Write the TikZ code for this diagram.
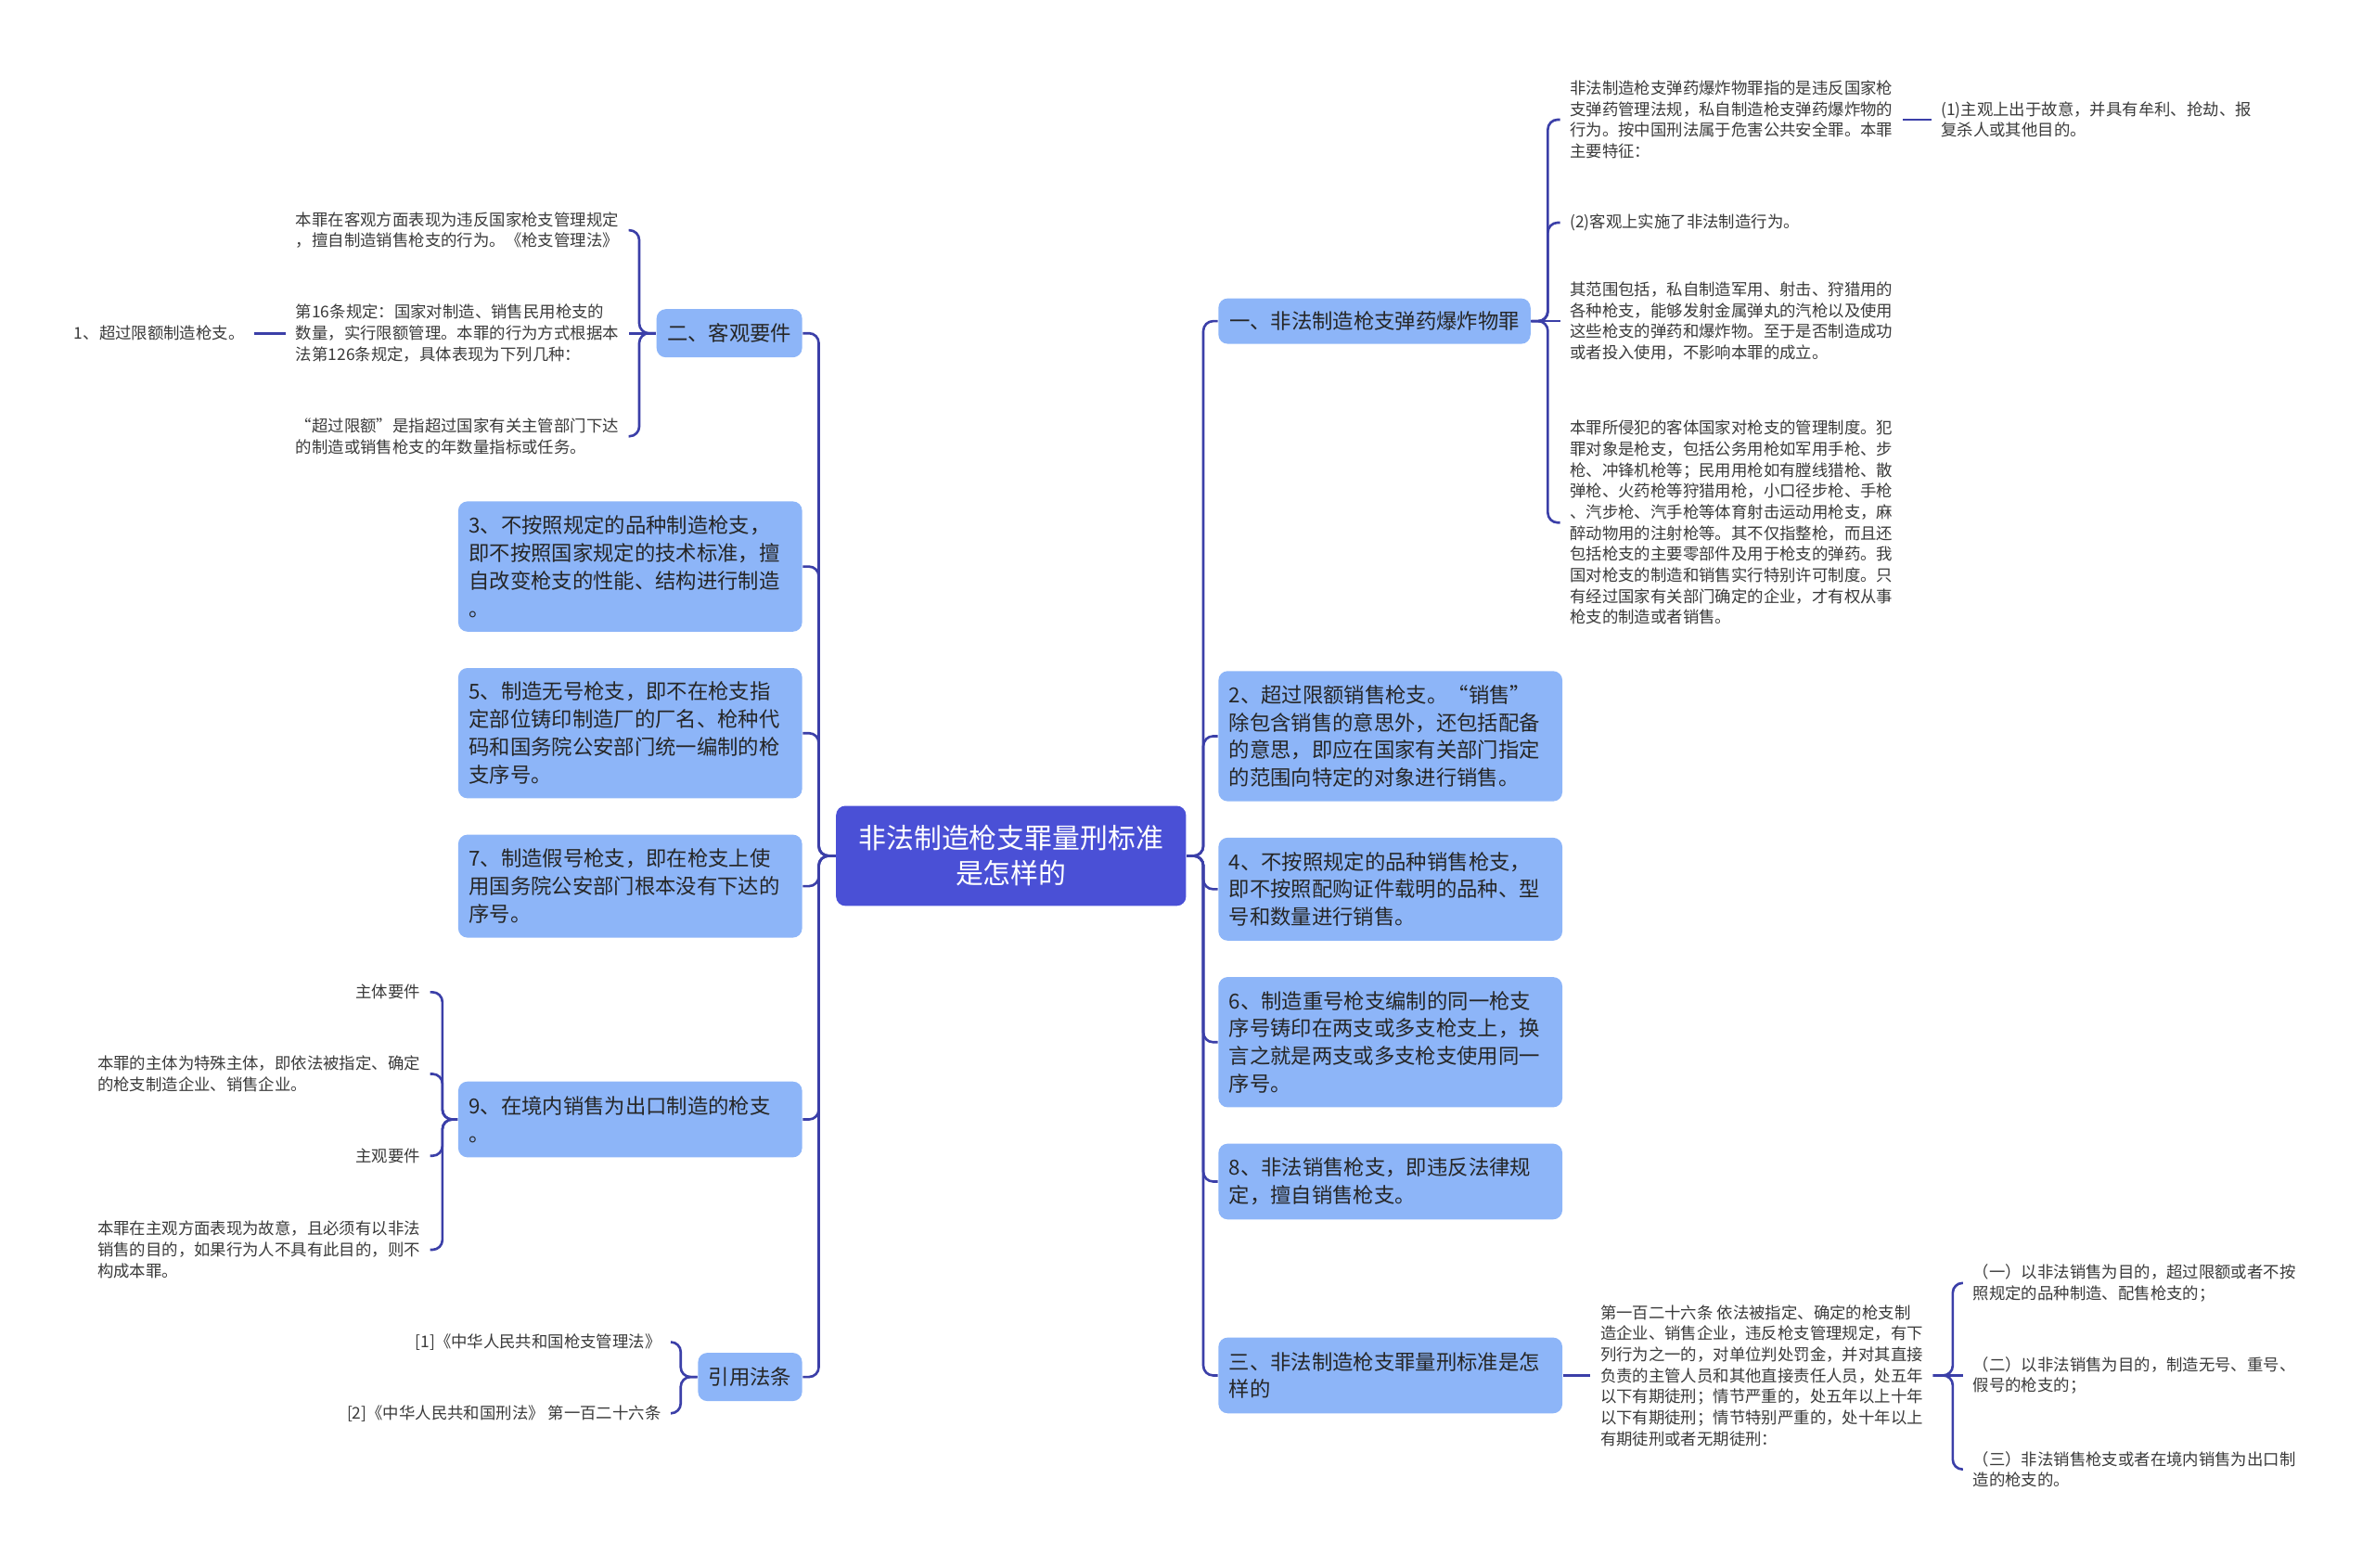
\documentclass[tikz,border=0pt]{standalone}
\usepackage{fontspec}
\setmainfont{Noto Sans CJK SC}
\usepackage{tikz}

\definecolor{rootblue}{HTML}{4A50D6}
\definecolor{boxblue}{HTML}{8DB5F8}
\definecolor{linkblue}{HTML}{3B3FA8}
\definecolor{leafgray}{HTML}{3A3A3A}

\newcommand{\rootfont}{\fontsize{8.5}{10.8}\selectfont}
\newcommand{\boxfont}{\fontsize{6.36}{8.5}\selectfont}
\newcommand{\leaffont}{\fontsize{4.95}{6.45}\selectfont}

\begin{document}
\begin{tikzpicture}[x=0.01633cm, y=-0.01633cm,
    rootbox/.style={fill=rootblue, rounded corners=0.1cm, text=white, font=\rootfont,
        align=center, minimum width=3.772cm, minimum height=1.078cm, inner sep=0pt},
    lvl/.style={fill=boxblue, rounded corners=0.1cm, text=black!85, font=\boxfont,
        align=left, inner xsep=0.114cm, inner ysep=0pt},
    wide/.style={lvl, text width=3.479cm},
    leaf/.style={text=leafgray, font=\leaffont, align=left, inner xsep=0.1cm, inner ysep=0.05cm},
    link/.style={draw=linkblue, line width=0.75pt, rounded corners=3pt}]
    \useasboundingbox (0,0) rectangle (1568,1035);

    % Centre
    \node[rootbox] (root) at (667.5,565) {非法制造枪支罪量刑标准\\是怎样的};

    % Left Panel: first level
    \node[lvl, anchor=east, minimum width=1.535cm, minimum height=0.52cm, align=center] (kg) at (530,220) {二、客观要件};
    \node[wide, anchor=east, minimum height=1.404cm] (m3) at (530,374) {3、不按照规定的品种制造枪支，\\即不按照国家规定的技术标准，擅\\自改变枪支的性能、结构进行制造\\。};
    \node[wide, anchor=east, minimum height=1.404cm] (m5) at (530,484) {5、制造无号枪支，即不在枪支指\\定部位铸印制造厂的厂名、枪种代\\码和国务院公安部门统一编制的枪\\支序号。};
    \node[wide, anchor=east, minimum height=1.11cm] (m7) at (530,585) {7、制造假号枪支，即在枪支上使\\用国务院公安部门根本没有下达的\\序号。};
    \node[wide, anchor=east, minimum height=0.817cm] (m9) at (530,739) {9、在境内销售为出口制造的枪支\\。};
    \node[lvl, anchor=east, minimum width=1.094cm, minimum height=0.52cm, align=center] (yy) at (530,909) {引用法条};

    % Left Panel: leaves
    \node[leaf, anchor=east] (a1) at (415,152) {本罪在客观方面表现为违反国家枪支管理规定\\，擅自制造销售枪支的行为。《枪支管理法》};
    \node[leaf, anchor=east] (a2) at (415,220) {第16条规定：国家对制造、销售民用枪支的\\数量，实行限额管理。本罪的行为方式根据本\\法第126条规定，具体表现为下列几种：};
    \node[leaf, anchor=east] (a3) at (415,288) {“超过限额”是指超过国家有关主管部门下达\\的制造或销售枪支的年数量指标或任务。};
    \node[leaf, anchor=east] (a2c) at (168,220) {1、超过限额制造枪支。};

    \node[leaf, anchor=east] (b1) at (284,655) {主体要件};
    \node[leaf, anchor=east] (b2) at (284,709) {本罪的主体为特殊主体，即依法被指定、确定\\的枪支制造企业、销售企业。};
    \node[leaf, anchor=east] (b3) at (284,763) {主观要件};
    \node[leaf, anchor=east] (b4) at (284,825) {本罪在主观方面表现为故意，且必须有以非法\\销售的目的，如果行为人不具有此目的，则不\\构成本罪。};

    \node[leaf, anchor=east] (c1) at (443,886) {[1]《中华人民共和国枪支管理法》};
    \node[leaf, anchor=east] (c2) at (443,933) {[2]《中华人民共和国刑法》 第一百二十六条};

    % Right Panel: first level
    \node[lvl, anchor=west, minimum width=3.364cm, minimum height=0.49cm, align=center] (r1) at (804,212) {一、非法制造枪支弹药爆炸物罪};
    \node[wide, anchor=west, minimum height=1.404cm] (s2) at (804,486) {2、超过限额销售枪支。“销售”\\除包含销售的意思外，还包括配备\\的意思，即应在国家有关部门指定\\的范围向特定的对象进行销售。};
    \node[wide, anchor=west, minimum height=1.11cm] (s4) at (804,587) {4、不按照规定的品种销售枪支，\\即不按照配购证件载明的品种、型\\号和数量进行销售。};
    \node[wide, anchor=west, minimum height=1.404cm] (s6) at (804,688) {6、制造重号枪支编制的同一枪支\\序号铸印在两支或多支枪支上，换\\言之就是两支或多支枪支使用同一\\序号。};
    \node[wide, anchor=west, minimum height=0.817cm] (s8) at (804,780) {8、非法销售枪支，即违反法律规\\定，擅自销售枪支。};
    \node[wide, anchor=west, minimum height=0.817cm] (r3) at (804,908) {三、非法制造枪支罪量刑标准是怎\\样的};

    % Right Panel: leaves
    \node[leaf, anchor=west] (d1) at (1030,79) {非法制造枪支弹药爆炸物罪指的是违反国家枪\\支弹药管理法规，私自制造枪支弹药爆炸物的\\行为。按中国刑法属于危害公共安全罪。本罪\\主要特征：};
    \node[leaf, anchor=west] (d1a) at (1275,79) {(1)主观上出于故意，并具有牟利、抢劫、报\\复杀人或其他目的。};
    \node[leaf, anchor=west] (d2) at (1030,147) {(2)客观上实施了非法制造行为。};
    \node[leaf, anchor=west] (d3) at (1030,212) {其范围包括，私自制造军用、射击、狩猎用的\\各种枪支，能够发射金属弹丸的汽枪以及使用\\这些枪支的弹药和爆炸物。至于是否制造成功\\或者投入使用，不影响本罪的成立。};
    \node[leaf, anchor=west] (d4) at (1030,345) {本罪所侵犯的客体国家对枪支的管理制度。犯\\罪对象是枪支，包括公务用枪如军用手枪、步\\枪、冲锋机枪等；民用用枪如有膛线猎枪、散\\弹枪、火药枪等狩猎用枪，小口径步枪、手枪\\、汽步枪、汽手枪等体育射击运动用枪支，麻\\醉动物用的注射枪等。其不仅指整枪，而且还\\包括枪支的主要零部件及用于枪支的弹药。我\\国对枪支的制造和销售实行特别许可制度。只\\有经过国家有关部门确定的企业，才有权从事\\枪支的制造或者销售。};

    \node[leaf, anchor=west] (e0) at (1050,908) {第一百二十六条 依法被指定、确定的枪支制\\造企业、销售企业，违反枪支管理规定，有下\\列行为之一的，对单位判处罚金，并对其直接\\负责的主管人员和其他直接责任人员，处五年\\以下有期徒刑；情节严重的，处五年以上十年\\以下有期徒刑；情节特别严重的，处十年以上\\有期徒刑或者无期徒刑：};
    \node[leaf, anchor=west] (e1) at (1296,847) {（一）以非法销售为目的，超过限额或者不按\\照规定的品种制造、配售枪支的；};
    \node[leaf, anchor=west] (e2) at (1296,908) {（二）以非法销售为目的，制造无号、重号、\\假号的枪支的；};
    \node[leaf, anchor=west] (e3) at (1296,970) {（三）非法销售枪支或者在境内销售为出口制\\造的枪支的。};

    % Connectors
    \foreach \n in {kg,m3,m5,m7,m9,yy}
        \draw[link] (root.west) -- ++(-11,0) |- (\n.east);
    \foreach \n in {r1,s2,s4,s6,s8,r3}
        \draw[link] (root.east) -- ++(11,0) |- (\n.west);

    \foreach \n in {a1,a3}
        \draw[link] (kg.west) -- ++(-11,0) |- (\n.east);
    \draw[link] (kg.west) -- (a2.east);
    \draw[link] (a2.west) -- (a2c.east);

    \foreach \n in {b1,b2,b3,b4}
        \draw[link] (m9.west) -- ++(-10,0) |- (\n.east);
    \foreach \n in {c1,c2}
        \draw[link] (yy.west) -- ++(-11,0) |- (\n.east);

    \foreach \n in {d1,d2,d4}
        \draw[link] (r1.east) -- ++(11,0) |- (\n.west);
    \draw[link] (r1.east) -- (d3.west);
    \draw[link] (d1.east) -- (d1a.west);

    \draw[link] (r3.east) -- (e0.west);
    \foreach \n in {e1,e3}
        \draw[link] (e0.east) -- ++(13,0) |- (\n.west);
    \draw[link] (e0.east) -- (e2.west);
\end{tikzpicture}
\end{document}
